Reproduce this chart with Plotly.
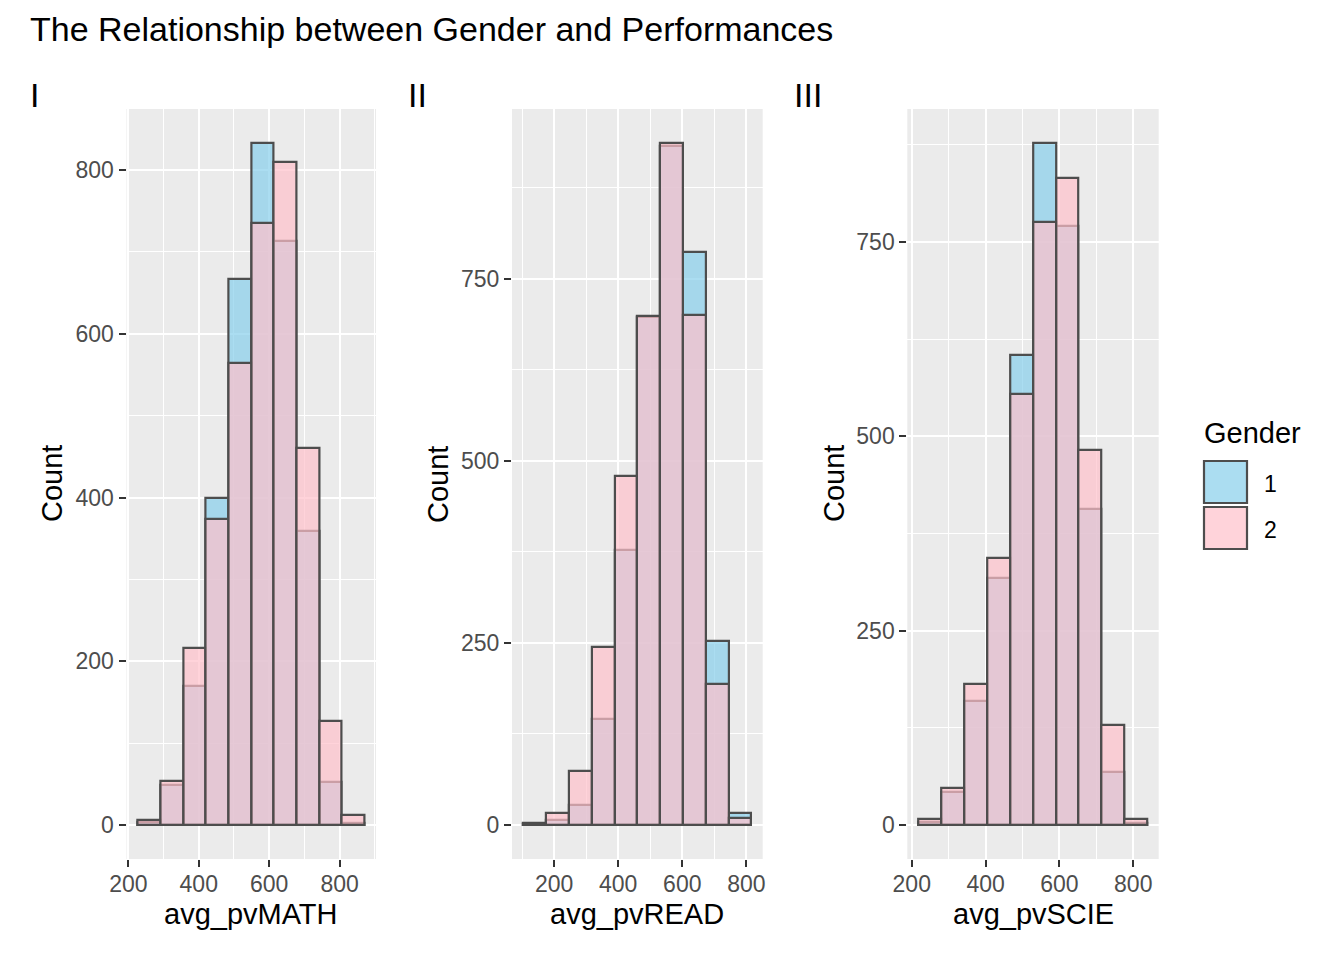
import plotly.graph_objects as go

# ---------------- data ----------------
genders = ["1", "2"]

math_centers = [259.2, 323.6, 388.0, 452.4, 516.8, 581.2, 645.6, 710.0, 774.4, 838.8]
math_width = 64.4
math_g1 = [3, 49, 170, 399, 667, 833, 713, 359, 52, 2]
math_g2 = [6, 54, 216, 374, 564, 735, 810, 460, 127, 12]

read_centers = [139.7, 210.8, 281.9, 353.1, 424.2, 495.3, 566.5, 637.6, 708.7, 779.8]
read_width = 71.13
read_g1 = [2, 7, 28, 145, 378, 697, 932, 786, 253, 17]
read_g2 = [1, 16, 74, 244, 479, 699, 936, 700, 193, 10]

scie_centers = [249.9, 311.8, 373.7, 435.6, 497.5, 559.4, 621.3, 683.2, 745.1, 807.0]
scie_width = 61.89
scie_g1 = [4, 42, 160, 317, 605, 877, 770, 406, 68, 3]
scie_g2 = [7, 47, 181, 343, 554, 775, 832, 482, 129, 7]

x_titles = ["avg_pvMATH", "avg_pvREAD", "avg_pvSCIE"]
tags = ["I", "II", "III"]
x_ticks = [200, 400, 600, 800]
y_ticks_list = [[0, 200, 400, 600, 800], [0, 250, 500, 750], [0, 250, 500, 750]]
y_minor = [100, 125, 125]

# ---------------- style ----------------
W, H = 1344, 960
OFF = 8  # page body margin of the html page
FONT = "Liberation Sans, Arial, sans-serif"
fill1 = "rgba(135,206,235,0.7)"
fill2 = "rgba(255,192,203,0.7)"
outline = "#4D4D4D"
panel_px = [(126.5, 376), (512, 762.7), (907.3, 1158.7)]
panel_top, panel_bot = 109, 859

def px(x):
    return (x - OFF) / W

def py(y):
    return 1 - (y - OFF) / H

panels = [
    (math_centers, math_width, math_g1, math_g2),
    (read_centers, read_width, read_g1, read_g2),
    (scie_centers, scie_width, scie_g1, scie_g2),
]

fig = go.Figure()
layout = {}
annotations = []

for i, (centers, width, g1, g2) in enumerate(panels):
    n = i + 1
    xa = "x" if n == 1 else f"x{n}"
    ya = "y" if n == 1 else f"y{n}"
    for vals, col, g in ((g1, fill1, genders[0]), (g2, fill2, genders[1])):
        fig.add_trace(go.Bar(
            x=centers, y=vals, width=width, name=g,
            marker=dict(color=col, line=dict(color=outline, width=2.2)),
            xaxis=xa, yaxis=ya, showlegend=False,
        ))
    lo = centers[0] - width / 2
    hi = centers[-1] + width / 2
    pad = 0.05 * (hi - lo)
    ymax = max(max(g1), max(g2))
    x0, x1 = panel_px[i]
    axis_common = dict(
        showline=False, zeroline=False, showgrid=True, gridcolor="white", gridwidth=2.2,
        ticks="outside", ticklen=7, tickwidth=2, tickcolor="#333333", automargin=False,
        tickfont=dict(family=FONT, size=23, color="#4D4D4D"),
    )
    layout[f"xaxis{n if n > 1 else ''}"] = dict(
        domain=[px(x0), px(x1)], anchor=ya, range=[lo - pad, hi + pad],
        tickvals=x_ticks, ticklabelstandoff=-3,
        minor=dict(dtick=100, tick0=0, showgrid=True, gridcolor="white",
                   gridwidth=1.1, ticks=""),
        **axis_common,
    )
    layout[f"yaxis{n if n > 1 else ''}"] = dict(
        domain=[py(panel_bot), py(panel_top)], anchor=xa,
        range=[-0.05 * ymax, 1.05 * ymax], tickvals=y_ticks_list[i],
        minor=dict(dtick=y_minor[i], tick0=0, showgrid=True, gridcolor="white",
                   gridwidth=1.1, ticks=""),
        **axis_common,
    )
    # axis titles
    annotations.append(dict(
        text=x_titles[i], x=px((x0 + x1) / 2), y=py(914), xref="paper", yref="paper",
        xanchor="center", yanchor="middle", showarrow=False,
        font=dict(family=FONT, size=29, color="black"),
    ))
    annotations.append(dict(
        text="Count", x=px([52, 438, 834][i]), y=py((panel_top + panel_bot) / 2),
        xref="paper", yref="paper", xanchor="center", yanchor="middle", textangle=-90,
        showarrow=False, font=dict(family=FONT, size=29, color="black"),
    ))
    annotations.append(dict(
        text=tags[i], x=px([28, 406.5, 792][i]), y=py(95), xref="paper", yref="paper",
        xanchor="left", yanchor="middle", showarrow=False,
        font=dict(family=FONT, size=34, color="black"),
    ))

# title
annotations.append(dict(
    text="The Relationship between Gender and Performances", x=px(28), y=py(29.5),
    xref="paper", yref="paper", xanchor="left", yanchor="middle", showarrow=False,
    font=dict(family=FONT, size=34, color="black"),
))

# legend (manual)
annotations.append(dict(
    text="Gender", x=px(1202), y=py(433), xref="paper", yref="paper",
    xanchor="left", yanchor="middle", showarrow=False,
    font=dict(family=FONT, size=29, color="black"),
))
shapes = []
for j, (g, kc) in enumerate(zip(genders, [fill1, fill2])):
    top = 461 + j * 46
    shapes.append(dict(type="rect", xref="paper", yref="paper",
                       x0=px(1204), x1=px(1247), y0=py(top + 42), y1=py(top),
                       fillcolor=kc, line=dict(color=outline, width=2.2)))
    annotations.append(dict(
        text=g, x=px(1262), y=py(top + 23), xref="paper", yref="paper",
        xanchor="left", yanchor="middle", showarrow=False,
        font=dict(family=FONT, size=23, color="black"),
    ))

fig.update_layout(
    width=W, height=H, margin=dict(l=0, r=0, t=0, b=0, autoexpand=False),
    paper_bgcolor="white", plot_bgcolor="#EBEBEB",
    barmode="overlay", bargap=0, showlegend=False,
    annotations=annotations, shapes=shapes,
    font=dict(family=FONT),
    **layout,
)

fig.write_html("out.html")
